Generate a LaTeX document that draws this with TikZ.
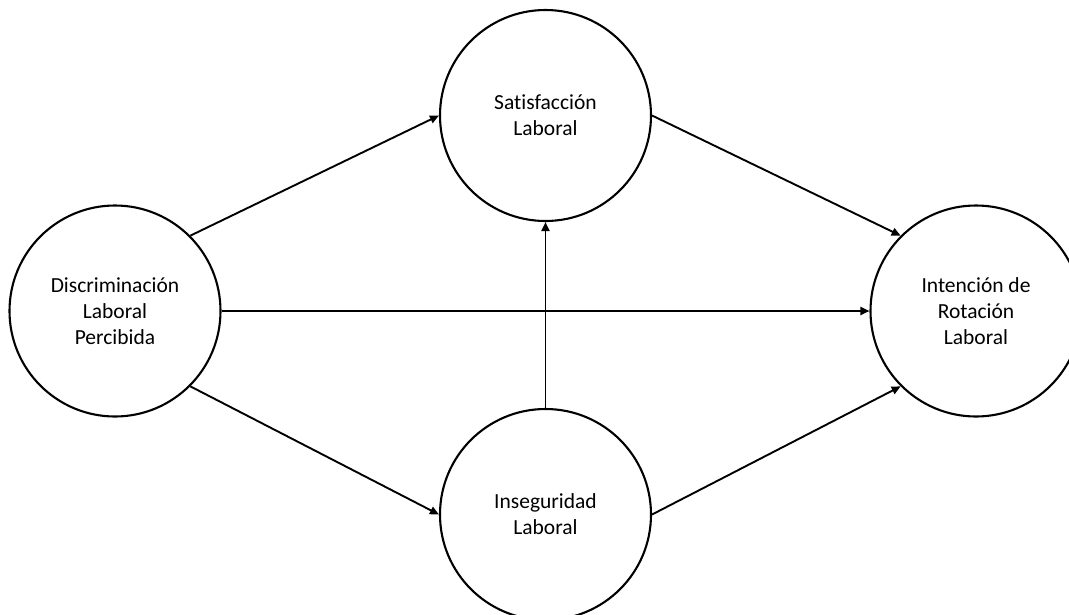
\documentclass[tikz,border=0pt]{standalone}
\usepackage{fontspec}
\setmainfont{Carlito}[Ligatures=NoCommon]
\usetikzlibrary{arrows.meta}
\begin{document}
\begin{tikzpicture}[x=1pt,y=-1pt,
  var/.style={circle,draw,line width=2.1pt,minimum size=211pt,inner sep=0pt,
    align=center,font=\fontsize{21.5}{26}\selectfont},
  link/.style={line width=1.9pt,-{Triangle[length=9pt,width=8pt]}}]
\useasboundingbox (0,0) rectangle (1069,614);
\clip (0,0) rectangle (1069,614);
% variables of the model
\node[var] (disc) at (115,311) {Discriminación\\Laboral\\Percibida};
\node[var] (sat)  at (545.5,115.5) {Satisfacción\\Laboral};
\node[var] (inseg) at (545.5,514.5) {Inseguridad\\Laboral};
\node[var] (rot)  at (976,311) {Intención de\\Rotación\\Laboral};
% hypothesised paths
\draw[link] (disc.45) -- (sat.west);
\draw[link] (disc.-45) -- (inseg.west);
\draw[link] (disc.east) -- (rot.west);
\draw[link] (inseg.north) -- (sat.south);
\draw[link] (sat.east) -- (rot.135);
\draw[link] (inseg.east) -- (rot.-135);
\end{tikzpicture}
\end{document}
